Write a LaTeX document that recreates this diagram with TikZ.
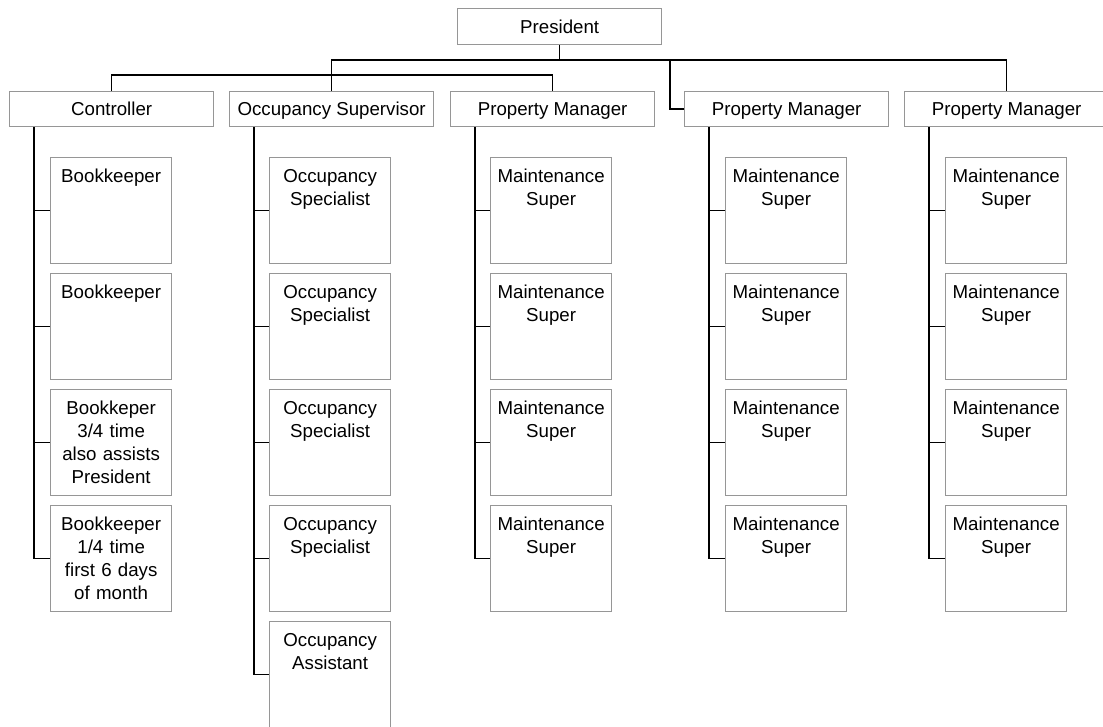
\documentclass[tikz,border=0pt]{standalone}
\usepackage{fontspec}
\setmainfont{Liberation Sans}
\definecolor{boxgray}{RGB}{150,150,150}
\tikzset{
  box/.style={draw=boxgray, line width=1.3pt, fill=white, inner sep=0pt, font=\fontsize{18.7}{23}\selectfont},
  head/.style={box, minimum width=204pt, minimum height=35pt, text height=13.5pt, text depth=0pt, anchor=north west},
  staff/.style={box, text width=121pt, align=center, text height=25pt, text depth=81pt, anchor=north west},
  link/.style={line width=1.5pt, black}
}
\begin{document}
\begin{tikzpicture}[x=1pt, y=-1pt]
\useasboundingbox (0,0) rectangle (1103,726);
\clip (0,0) rectangle (1103,726);

% top level
\node[head, minimum height=36pt] (pres) at (457,8) {President};

% department heads
\node[head] (ctrl) at (9,91) {Controller};
\node[head] (occsup) at (229,91) {Occupancy Supervisor};
\node[head] (pm1) at (450,91) {Property Manager};
\node[head] (pm2) at (684,91) {Property Manager};
\node[head] (pm3) at (904,91) {Property Manager};

% staff
\foreach \t [count=\i] in {{Bookkeeper},{Bookkeeper},{Bookkeper\\3/4 time\\also assists\\President},{Bookkeeper\\1/4 time\\first 6 days\\of month}}
\node[staff] (bk\i) at (50,{41+116*\i}) {\t};

\foreach \t [count=\i] in {{Occupancy\\Specialist},{Occupancy\\Specialist},{Occupancy\\Specialist},{Occupancy\\Specialist},{Occupancy\\Assistant}}
\node[staff] (oc\i) at (269,{41+116*\i}) {\t};

\foreach \c/\x in {1/490,2/725,3/945}
\foreach \i in {1,...,4}
\node[staff] (ms\c\i) at (\x,{41+116*\i}) {Maintenance\\Super};

% connectors
\coordinate (bus) at (0,60);
\coordinate (bus2) at (0,75);
\coordinate (elbow) at (670,60);
\draw[link] (pres.south) -- (pres.south |- bus);
\draw[link] (occsup.north) -- (occsup.north |- bus) -- (pm3.north |- bus) -- (pm3.north);
\draw[link] (pm2.west) -| (elbow);
\draw[link] (ctrl.north) |- (pm1.north |- bus2) -- (pm1.north);

\foreach \i in {1,...,4}
\draw[link] (ctrl.south west) ++(25,0) |- (bk\i.west);
\foreach \i in {1,...,5}
\draw[link] (occsup.south west) ++(25,0) |- (oc\i.west);
\foreach \c in {1,2,3}
\foreach \i in {1,...,4}
\draw[link] (pm\c.south west) ++(25,0) |- (ms\c\i.west);

\end{tikzpicture}
\end{document}
